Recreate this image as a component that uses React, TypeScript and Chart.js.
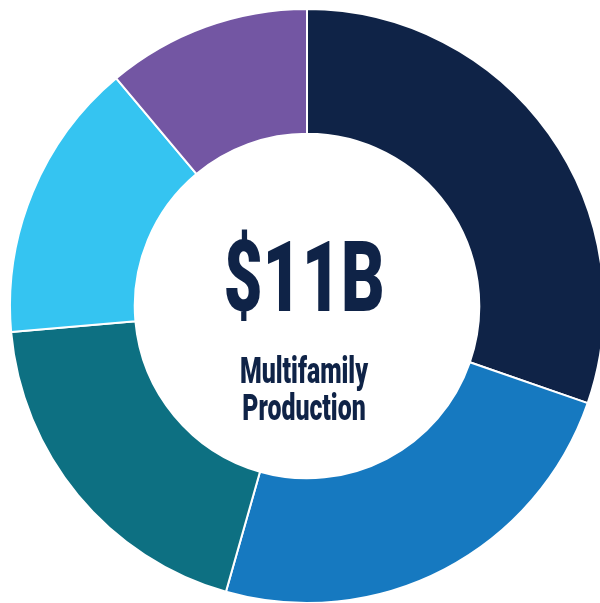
import React, { useEffect, useRef } from "react";
import { Chart, registerables } from "chart.js";

Chart.register(...registerables);

const categories = ["Segment A", "Segment B", "Segment C", "Segment D", "Segment E"];
const values = [30.3, 24.1, 19.2, 15.3, 11.1];
const colors = ["#0F2347", "#1679C0", "#0D7082", "#35C4F1", "#7356A3"];
const centerValue = "$11B";
const centerLines = ["Multifamily", "Production"];

export default function App() {
  const canvasRef = useRef<HTMLCanvasElement | null>(null);

  useEffect(() => {
    document.body.style.margin = "0";
    document.body.style.overflow = "hidden";
    const ctx = canvasRef.current!.getContext("2d")!;
    const chart = new Chart(ctx, {
      type: "doughnut",
      data: {
        labels: categories,
        datasets: [
          {
            data: values,
            backgroundColor: colors,
            borderColor: "#ffffff",
            borderWidth: 2,
            hoverOffset: 0,
            offset: 0,
          },
        ],
      },
      options: {
        animation: false,
        responsive: false,
        maintainAspectRatio: false,
        cutout: "58%",
        layout: { padding: 0 },
        plugins: {
          legend: { display: false },
          tooltip: { enabled: false },
        },
      },
    });
    return () => chart.destroy();
  }, []);

  return (
    <div
      style={{
        position: "fixed",
        left: 0,
        top: 0,
        width: 600,
        height: 603,
        overflow: "hidden",
        background: "#ffffff",
      }}
    >
      <canvas
        ref={canvasRef}
        width={596}
        height={596}
        style={{ position: "absolute", left: 9, top: 8, width: 596, height: 596 }}
      />
      <div
        style={{
          position: "absolute",
          left: 304,
          top: 0,
          width: 0,
          height: 603,
          color: "#0F2347",
          fontFamily: "Roboto, 'Liberation Sans', sans-serif",
          fontWeight: 900,
        }}
      >
        <div
          style={{
            position: "absolute",
            left: -200,
            width: 400,
            top: 229,
            textAlign: "center",
            fontSize: 98,
            lineHeight: "98px",
            transform: "scaleX(0.69)",
            whiteSpace: "nowrap",
          }}
        >
          {centerValue}
        </div>
        {centerLines.map((t, i) => (
          <div
            key={t}
            style={{
              position: "absolute",
              left: -200,
              width: 400,
              top: 353 + i * 37,
              textAlign: "center",
              fontSize: 36,
              lineHeight: "36px",
              transform: "scaleX(0.69)",
              whiteSpace: "nowrap",
            }}
          >
            {t}
          </div>
        ))}
      </div>
    </div>
  );
}
